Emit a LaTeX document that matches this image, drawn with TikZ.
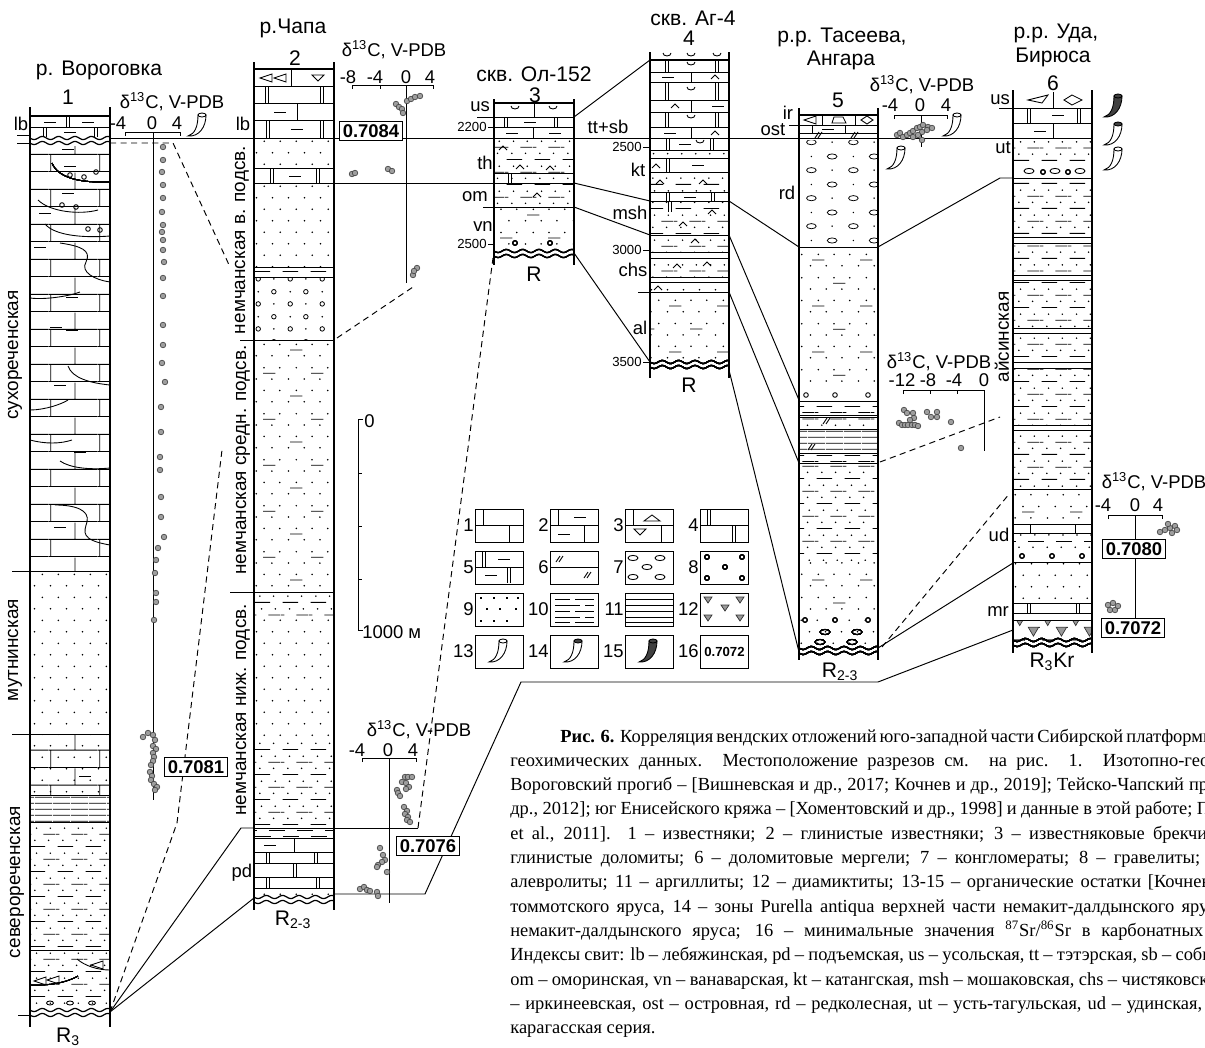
\documentclass[tikz,border=0pt]{standalone}
\usepackage{fontspec}
\setmainfont{Liberation Serif}
\newfontfamily\arialf{Liberation Sans}
\usetikzlibrary{patterns}

% lithology patterns
\pgfdeclarepatternformonly{sandp}{\pgfqpoint{0pt}{0pt}}{\pgfqpoint{9pt}{13pt}}{\pgfqpoint{9pt}{13pt}}{%
  \pgfpathcircle{\pgfqpoint{2pt}{3pt}}{0.5pt}%
  \pgfpathcircle{\pgfqpoint{6.5pt}{9.5pt}}{0.5pt}%
  \pgfusepath{fill}}
\pgfdeclarepatternformonly{siltp}{\pgfqpoint{0pt}{0pt}}{\pgfqpoint{16pt}{14pt}}{\pgfqpoint{16pt}{14pt}}{%
  \pgfsetlinewidth{0.45pt}%
  \pgfpathmoveto{\pgfqpoint{1pt}{1.5pt}}\pgfpathlineto{\pgfqpoint{10pt}{1.5pt}}%
  \pgfpathmoveto{\pgfqpoint{9pt}{8.5pt}}\pgfpathlineto{\pgfqpoint{16pt}{8.5pt}}%
  \pgfpathmoveto{\pgfqpoint{0pt}{8.5pt}}\pgfpathlineto{\pgfqpoint{2pt}{8.5pt}}%
  \pgfusepath{stroke}%
  \pgfpathcircle{\pgfqpoint{4pt}{5pt}}{0.5pt}%
  \pgfpathcircle{\pgfqpoint{12pt}{5pt}}{0.5pt}%
  \pgfpathcircle{\pgfqpoint{5pt}{12pt}}{0.5pt}%
  \pgfpathcircle{\pgfqpoint{13pt}{12pt}}{0.5pt}%
  \pgfusepath{fill}}
\pgfdeclarepatternformonly{sandsiltp}{\pgfqpoint{0pt}{0pt}}{\pgfqpoint{27pt}{26pt}}{\pgfqpoint{27pt}{26pt}}{%
  \pgfsetlinewidth{0.45pt}%
  \pgfpathmoveto{\pgfqpoint{3pt}{6.3pt}}\pgfpathlineto{\pgfqpoint{10pt}{6.3pt}}%
  \pgfpathmoveto{\pgfqpoint{15pt}{19.3pt}}\pgfpathlineto{\pgfqpoint{22pt}{19.3pt}}%
  \pgfusepath{stroke}%
  \foreach \u in {2,11,20}{\pgfpathcircle{\pgfqpoint{\u pt}{3pt}}{0.5pt}\pgfpathcircle{\pgfqpoint{\u pt}{16pt}}{0.5pt}}%
  \foreach \u in {6.5,15.5,24.5}{\pgfpathcircle{\pgfqpoint{\u pt}{9.5pt}}{0.5pt}\pgfpathcircle{\pgfqpoint{\u pt}{22.5pt}}{0.5pt}}%
  \pgfusepath{fill}}
\pgfdeclarepatternformonly{dashp}{\pgfqpoint{0pt}{0pt}}{\pgfqpoint{16pt}{7pt}}{\pgfqpoint{16pt}{7pt}}{%
  \pgfsetlinewidth{0.45pt}%
  \pgfpathmoveto{\pgfqpoint{1pt}{1.5pt}}\pgfpathlineto{\pgfqpoint{10pt}{1.5pt}}%
  \pgfpathmoveto{\pgfqpoint{9pt}{5pt}}\pgfpathlineto{\pgfqpoint{16pt}{5pt}}%
  \pgfpathmoveto{\pgfqpoint{0pt}{5pt}}\pgfpathlineto{\pgfqpoint{2pt}{5pt}}%
  \pgfusepath{stroke}}
\pgfdeclarepatternformonly{shalep}{\pgfqpoint{0pt}{0pt}}{\pgfqpoint{10pt}{3.2pt}}{\pgfqpoint{10pt}{3.2pt}}{%
  \pgfsetlinewidth{0.45pt}%
  \pgfpathmoveto{\pgfqpoint{0pt}{1.6pt}}\pgfpathlineto{\pgfqpoint{10pt}{1.6pt}}%
  \pgfusepath{stroke}}
\pgfdeclarepatternformonly{limep}{\pgfqpoint{0pt}{0pt}}{\pgfqpoint{28pt}{20pt}}{\pgfqpoint{28pt}{20pt}}{%
  \pgfsetlinewidth{0.5pt}%
  \pgfpathmoveto{\pgfqpoint{0pt}{0.3pt}}\pgfpathlineto{\pgfqpoint{28pt}{0.3pt}}%
  \pgfpathmoveto{\pgfqpoint{0pt}{10.3pt}}\pgfpathlineto{\pgfqpoint{28pt}{10.3pt}}%
  \pgfpathmoveto{\pgfqpoint{1pt}{0.3pt}}\pgfpathlineto{\pgfqpoint{1pt}{10.3pt}}%
  \pgfpathmoveto{\pgfqpoint{15pt}{10.3pt}}\pgfpathlineto{\pgfqpoint{15pt}{20pt}}%
  \pgfusepath{stroke}}
\pgfdeclarepatternformonly{gravelp}{\pgfqpoint{0pt}{0pt}}{\pgfqpoint{18pt}{14pt}}{\pgfqpoint{18pt}{14pt}}{%
  \pgfsetlinewidth{0.45pt}%
  \pgfpathcircle{\pgfqpoint{3pt}{3.5pt}}{1.3pt}%
  \pgfpathcircle{\pgfqpoint{12pt}{10.5pt}}{1.3pt}%
  \pgfusepath{stroke}%
  \pgfpathcircle{\pgfqpoint{12pt}{3.5pt}}{0.5pt}%
  \pgfpathcircle{\pgfqpoint{3pt}{10.5pt}}{0.5pt}%
  \pgfusepath{fill}}
\pgfdeclarepatternformonly{conglp}{\pgfqpoint{0pt}{0pt}}{\pgfqpoint{24pt}{16pt}}{\pgfqpoint{24pt}{16pt}}{%
  \pgfsetlinewidth{0.45pt}%
  \pgfpathellipse{\pgfqpoint{6pt}{4pt}}{\pgfqpoint{2.8pt}{0pt}}{\pgfqpoint{0pt}{1.5pt}}%
  \pgfpathellipse{\pgfqpoint{18pt}{12pt}}{\pgfqpoint{2.8pt}{0pt}}{\pgfqpoint{0pt}{1.5pt}}%
  \pgfusepath{stroke}%
  \pgfpathcircle{\pgfqpoint{18pt}{4pt}}{0.5pt}%
  \pgfpathcircle{\pgfqpoint{6pt}{12pt}}{0.5pt}%
  \pgfusepath{fill}}
\pgfdeclarepatterninherentlycolored{diamp}{\pgfqpoint{0pt}{0pt}}{\pgfqpoint{16pt}{13pt}}{\pgfqpoint{16pt}{13pt}}{%
  \pgfsetlinewidth{0.4pt}%
  \pgfsetfillcolor{black!40}\pgfsetstrokecolor{black!80}%
  \pgfpathmoveto{\pgfqpoint{1.5pt}{11.5pt}}\pgfpathlineto{\pgfqpoint{7.5pt}{11.5pt}}\pgfpathlineto{\pgfqpoint{4.5pt}{6.5pt}}\pgfpathclose
  \pgfpathmoveto{\pgfqpoint{9.5pt}{5.5pt}}\pgfpathlineto{\pgfqpoint{15.5pt}{5.5pt}}\pgfpathlineto{\pgfqpoint{12.5pt}{0.5pt}}\pgfpathclose
  \pgfusepath{fill,stroke}}

\tikzset{
  colline/.style={line width=0.8pt},
  bnd/.style={line width=0.5pt},
  corr/.style={line width=0.55pt},
  corrdash/.style={line width=0.55pt, dash pattern=on 3.5pt off 2.5pt},
  dpt/.style={draw=black!75, fill=black!38, line width=0.35pt},
  ttl/.style={font=\arialf\fontsize{12}{13}\selectfont, inner sep=0pt},
  lbl/.style={font=\arialf\fontsize{10.5}{12}\selectfont, inner sep=0pt},
  dep/.style={font=\arialf\fontsize{7.5}{8}\selectfont, inner sep=0pt},
  rot/.style={font=\arialf\fontsize{10.8}{12}\selectfont, rotate=90, inner sep=0pt},
  srbox/.style={draw, line width=0.6pt, fill=white, inner sep=1.8pt, font=\arialf\bfseries\fontsize{10.5}{12}\selectfont},
  captxt/.style={font=\fontsize{10.5}{12}\selectfont, anchor=base west, inner sep=0pt},
}

% symbols
\newcommand{\wavyline}[3]{%
  \draw[line width=0.7pt] plot[domain=#1:#2, samples=41, smooth] (\x,{#3+1.6*sin((\x-#1)*22)});
  \draw[line width=0.7pt] plot[domain=#1:#2, samples=41, smooth] (\x,{#3+5+1.6*sin((\x-#1)*22)});}
\newcommand{\joint}[3]{\draw[bnd] (#1,#2) -- (#1,#3);}
\newcommand{\djoint}[3]{\draw[bnd] (#1-1.5,#2) -- (#1-1.5,#3) (#1+1.5,#2) -- (#1+1.5,#3);}
\newcommand{\dashsym}[2]{\draw[bnd] (#1-6,#2) -- (#1+6,#2);}
\newcommand{\cupsym}[2]{\draw[bnd] (#1-4,#2-2) arc (180:0:4 and 3);}
\newcommand{\hatsym}[2]{\draw[bnd] (#1-4,#2+2) -- (#1,#2-2) -- (#1+4,#2+2);}
\newcommand{\marlsym}[2]{\draw[bnd] (#1-4,#2+3) -- (#1,#2-3) (#1-1,#2+3) -- (#1+3,#2-3);}
\newcommand{\pebble}[2]{\draw[bnd] (#1,#2) circle (2.3);}
\newcommand{\ovalsym}[2]{\draw[bnd] (#1,#2) ellipse (5 and 2.6);}
\newcommand{\trileft}[2]{\draw[bnd] (#1-6,#2) -- (#1+6,#2-4) -- (#1+6,#2+4) -- cycle;}
\newcommand{\tridown}[2]{\draw[bnd] (#1-6,#2-3) -- (#1+6,#2-3) -- (#1,#2+3) -- cycle;}
\newcommand{\triup}[2]{\draw[bnd] (#1-8,#2+3) -- (#1+8,#2+3) -- (#1,#2-3) -- cycle;}
\newcommand{\horn}[4]{%
  \begin{scope}[shift={(#1,#2)}]
    \filldraw[fill=#3, line width=0.5pt] (0,0) .. controls (7,-2) and (10,-10) .. (10,-21) -- (18,-21) .. controls (18,-9) and (11,1) .. (0,0) -- cycle;
    \filldraw[fill=#4, line width=0.5pt] (14,-21) ellipse (4 and 2);
  \end{scope}}

\begin{document}
\begin{tikzpicture}[x=0.02cm, y=-0.02cm]
\useasboundingbox (0,0) rectangle (1205,1048);
\clip (0,0) rectangle (1205,1048);

% Drawing column 1 (r. Vorogovka)
\fill[pattern=limep] (30,146) rectangle (110,571);
\fill[pattern=sandp] (30,571) rectangle (110,734);
\fill[pattern=limep] (30,734) rectangle (110,795);
\fill[pattern=sandp] (30,734) rectangle (110,795);
\fill[pattern=shalep] (30,795) rectangle (110,822);
\fill[pattern=siltp] (30,822) rectangle (110,1006);
\foreach \yy in {571,734,795,822,950} \draw[bnd] (30,\yy) -- (110,\yy);
\draw[bnd] (30,127) -- (110,127);
\djoint{68}{116}{127} \dashsym{50}{122} \dashsym{88}{122}
\djoint{45}{127}{137} \djoint{96}{127}{137} \dashsym{70}{132}
\foreach \u/\v in {68/149,70/166,68/193,45/213,40/247,72/297,72/330,56/327,60/385,80/452,60/527,85/776} \dashsym{\u}{\v}
\draw[bnd] (52,163) .. controls (58,178) and (80,183) .. (110,182);
\draw[bnd] (38,200) .. controls (50,212) and (80,215) .. (98,210);
\draw[bnd] (45,224) .. controls (55,236) and (85,238) .. (110,236);
\draw[bnd] (60,243) .. controls (80,246) and (92,250) .. (86,262) .. controls (80,272) and (95,280) .. (110,282);
\draw[bnd] (30,298) .. controls (45,300) and (70,296) .. (80,292);
\draw[bnd] (68,366) .. controls (72,378) and (90,383) .. (110,385);
\draw[bnd] (30,410) .. controls (45,410) and (62,404) .. (68,400);
\draw[bnd] (30,440) .. controls (45,444) and (60,444) .. (72,440);
\draw[bnd] (60,461) .. controls (70,468) and (90,470) .. (110,468);
\draw[bnd] (55,505) .. controls (75,505) and (90,510) .. (87,522) .. controls (84,532) and (80,540) .. (110,545);
\foreach \u/\v in {70/175,84/177,96/172,62/205,76/207,88/229,100/230} \pebble{\u}{\v}
\draw[bnd] (30,985) .. controls (50,986) and (68,982) .. (78,976);
\draw[bnd] (77,959) .. controls (85,966) and (98,970) .. (110,970);
\trileft{40}{981} \trileft{53}{980} \trileft{97}{965}
\foreach \u in {50,70,92} \draw[bnd] (\u,1003) ellipse (3.5 and 2);
\wavyline{30}{110}{138}
\wavyline{30}{110}{1010}
\draw[colline] (30,107) -- (30,1027) (110,107) -- (110,1027) (30,116) -- (110,116);
\draw[bnd] (17,135) -- (30,135) (17,143) -- (30,143) (12,571) -- (30,571) (12,734) -- (30,734) (18,1015) -- (30,1015);

% Drawing column 2 (r. Chapa)
\fill[pattern=sandp] (254,138) rectangle (334,168);
\fill[pattern=sandp] (254,183) rectangle (334,267);
\fill[pattern=dashp] (254,267) rectangle (334,277);
\fill[pattern=gravelp] (254,277) rectangle (334,340);
\fill[pattern=sandsiltp] (254,340) rectangle (334,592);
\fill[pattern=siltp] (254,592) rectangle (334,618);
\fill[pattern=sandp] (254,618) rectangle (334,740);
\fill[pattern=siltp] (254,740) rectangle (334,828);
\fill[pattern=dashp] (254,828) rectangle (334,838);
\fill[pattern=sandp] (254,888) rectangle (334,896);
\foreach \yy in {86,103,120,138,168,183,267,277,340,592,828,838,852,863,877,888} \draw[bnd] (254,\yy) -- (334,\yy);
\trileft{266}{78} \trileft{280}{78} \tridown{318}{78} \joint{291}{69}{86}
\djoint{267}{86}{103} \djoint{322}{86}{103}
\joint{297}{103}{120} \dashsym{280}{112}
\djoint{268}{120}{138} \djoint{322}{120}{138} \dashsym{297}{129}
\djoint{272}{168}{183} \djoint{318}{168}{183} \dashsym{295}{176}
\joint{294}{838}{852} \dashsym{270}{845}
\djoint{268}{852}{863} \djoint{316}{852}{863}
\djoint{295}{863}{877}
\djoint{268}{877}{888} \djoint{318}{877}{888}
\wavyline{254}{334}{897}
\draw[colline] (254,62) -- (254,910) (334,62) -- (334,910) (254,69) -- (334,69);
\draw[bnd] (240,340) -- (254,340) (230,592) -- (254,592);

% Drawing column 3 (Ol-152)
\fill[pattern=siltp] (494,138) rectangle (574,207);
\fill[pattern=sandsiltp] (494,207) rectangle (574,248);
\foreach \yy in {117,127,138,173,183,207} \draw[bnd] (494,\yy) -- (574,\yy);
\joint{534}{103}{117} \cupsym{515}{108} \cupsym{553}{108}
\djoint{506}{117}{127} \djoint{556}{117}{127} \dashsym{530}{122}
\joint{533}{127}{138} \dashsym{512}{133} \dashsym{555}{133}
\djoint{510}{173}{183}
\foreach \u/\v in {503/148,520/167,550/168,537/195} \hatsym{\u}{\v}
\pebble{515}{243} \pebble{550}{243}
\wavyline{494}{574}{251}
\draw[colline] (494,99) -- (494,265) (574,99) -- (574,265) (494,103) -- (574,103);
\draw[bnd] (477,117) -- (494,117) (488,127) -- (494,127) (483,207) -- (494,207) (488,244) -- (494,244);

% Drawing column 4 (Ag-4)
\fill[pattern=siltp] (650,150) rectangle (729,158);
\fill[pattern=siltp] (650,172) rectangle (729,192);
\fill[pattern=siltp] (650,201) rectangle (729,252);
\fill[pattern=siltp] (650,258) rectangle (729,277);
\fill[pattern=sandp] (650,282) rectangle (729,292);
\fill[pattern=sandsiltp] (650,292) rectangle (729,360);
\foreach \yy in {72,82,100,112,127,138,150,158,172,192,201,235,252,258,277,282,292} \draw[bnd] (650,\yy) -- (729,\yy);
\cupsym{667}{55} \cupsym{691}{55} \cupsym{717}{55}
\djoint{667}{60}{72} \djoint{717}{60}{72} \cupsym{691}{64}
\joint{691}{72}{82} \dashsym{668}{77} \hatsym{715}{77}
\djoint{667}{82}{100} \djoint{717}{82}{100} \cupsym{691}{89}
\joint{691}{100}{112} \hatsym{675}{106} \dashsym{718}{106}
\djoint{667}{112}{127} \djoint{717}{112}{127} \cupsym{691}{117}
\joint{691}{127}{138} \dashsym{670}{133} \hatsym{715}{133}
\djoint{668}{138}{150} \djoint{712}{138}{150} \dashsym{685}{144} \cupsym{700}{142}
\djoint{668}{158}{172} \hatsym{656}{166} \dashsym{698}{165}
\djoint{668}{192}{201} \djoint{713}{192}{201} \dashsym{690}{197}
\djoint{670}{201}{212}
\foreach \u/\v in {660/182,703/182,712/212,683/224,695/241,677/266,707/264,658/288} \hatsym{\u}{\v}
\wavyline{650}{729}{362}
\draw[colline] (650,52) -- (650,378) (729,52) -- (729,378) (650,60) -- (729,60);
\draw[bnd] (643,147) -- (650,147) (643,250) -- (650,250) (643,362) -- (650,362) (638,292) -- (650,292);

% Drawing column 5 (Taseeva, Angara)
\fill[pattern=conglp] (799,140) rectangle (878,247);
\fill[pattern=sandsiltp] (799,247) rectangle (878,390);
\fill[pattern=dashp] (799,401) rectangle (878,415);
\fill[pattern=siltp] (799,417) rectangle (878,429);
\fill[pattern=shalep] (799,429) rectangle (878,453);
\fill[pattern=dashp] (799,453) rectangle (878,463);
\fill[pattern=siltp] (799,463) rectangle (878,560);
\fill[pattern=sandsiltp] (799,560) rectangle (878,616);
\fill[pattern=sandp] (799,616) rectangle (878,646);
\foreach \yy in {125,133,138,247,401,415,417,429,453,463} \draw[bnd] (799,\yy) -- (878,\yy);
\trileft{810}{120} \draw[bnd] (832,123) -- (846,123) -- (843,117) -- (834,117) -- cycle; \draw[bnd] (861,120) -- (867,116) -- (873,120) -- (867,124) -- cycle;
\joint{822}{115}{125} \joint{855}{115}{125}
\joint{812}{125}{133} \joint{845}{125}{133} \dashsym{828}{129}
\marlsym{819}{135} \marlsym{855}{135}
\marlsym{827}{421} \marlsym{812}{447}
\foreach \u in {806,835,868} \pebble{\u}{395}
\foreach \u in {805,835,868} \pebble{\u}{620}
\ovalsym{825}{632} \ovalsym{857}{632} \ovalsym{820}{642} \ovalsym{852}{642}
\wavyline{799}{878}{648}
\draw[colline] (799,108) -- (799,660) (878,108) -- (878,660) (799,115) -- (878,115);
\draw[bnd] (789,125) -- (799,125);

% Drawing column 6 (Uda, Biryusa)
\fill[pattern=siltp] (1013,138) rectangle (1092,165);
\fill[pattern=siltp] (1013,178) rectangle (1092,237);
\fill[pattern=siltp] (1013,243) rectangle (1092,275);
\fill[pattern=siltp] (1013,280) rectangle (1092,328);
\fill[pattern=siltp] (1013,333) rectangle (1092,362);
\fill[pattern=siltp] (1013,368) rectangle (1092,425);
\fill[pattern=siltp] (1013,430) rectangle (1092,489);
\fill[pattern=sandsiltp] (1013,489) rectangle (1092,524);
\fill[pattern=siltp] (1013,533) rectangle (1092,550);
\fill[pattern=sandp] (1013,562) rectangle (1092,603);
\fill[pattern=diamp] (1013,620) rectangle (1092,640);
\foreach \yy in {108,123,138,178,237,243,275,280,328,333,362,368,425,430,489,524,533,562,603,613,620} \draw[bnd] (1013,\yy) -- (1092,\yy);
\draw[bnd] (1028,100) -- (1048,95) -- (1042,103) -- cycle; \draw[bnd] (1064,100) -- (1072,95) -- (1082,100) -- (1072,105) -- cycle; \joint{1053}{92}{108}
\djoint{1029}{108}{123} \djoint{1079}{108}{123} \dashsym{1058}{115}
\joint{1053}{123}{138} \dashsym{1040}{131}
\foreach \u in {1029,1055,1080} \ovalsym{\u}{171}
\pebble{1043}{172} \pebble{1068}{172}
\joint{1030}{524}{533} \joint{1075}{524}{533}
\foreach \u in {1022,1052,1082} \pebble{\u}{556}
\djoint{1029}{603}{613} \djoint{1078}{603}{613}
\wavyline{1013}{1092}{640}
\draw[colline] (1013,90) -- (1013,653) (1092,90) -- (1092,653);
\draw[bnd] (999,108) -- (1013,108);

% Drawing correlation lines
\coordinate (c1bot) at (110,1012);
\coordinate (c2top) at (254,828);
\coordinate (c2bot) at (254,898);
\draw[corr] (110,138) -- (1013,138);
\draw[corr] (334,183) -- (494,183);
\draw[corr] (574,117) -- (650,60);
\draw[corr] (574,183) -- (650,201);
\draw[corr] (574,207) -- (650,235);
\draw[corr] (574,253) -- (650,362);
\draw[corr] (729,201) -- (799,247);
\draw[corr] (729,235) -- (799,400);
\draw[corr] (729,292) -- (799,463);
\draw[corr] (729,370) -- (799,652);
\draw[corr] (878,247) -- (1000,178) -- (1013,178);
\draw[corr] (878,648) -- (1013,563);
\draw[corr] (334,894) -- (425,894) -- (521,682) -- (878,682) -- (1013,630);
\draw[corr] (c1bot) -- (241,828) -- (c2top);
\draw[corr] (c1bot) -- (c2bot);
\draw[corr] (334,828) -- (418,828);
\draw[corrdash] (110,143) -- (173,143) -- (230,267);
\draw[corrdash] (337,338) -- (413,287);
\draw[corrdash] (c1bot) -- (177,823) -- (222,450);
\draw[corrdash] (418,828) -- (493,258);
\draw[corrdash] (880,462) -- (1000,417);
\draw[corrdash] (882,647) -- (1010,493);

% Drawing d13C plots
\node[lbl] (hd1) at (172,102) {δ\textsuperscript{13}C, V-PDB};
\node[lbl] at (118,123) {-4}; \node[lbl] at (152,123) {0}; \node[lbl] at (177,123) {4};
\draw[bnd] (125,136) -- (125,132) -- (180,132) -- (180,136) (153,132) -- (153,800);
\foreach \u/\v in {163/147,163/160,162/172,163/185,163/198,162/212,163/225,162/232,163/240,163/250,164/262,163/278,163/296,163/325,163/345,162/363,165/382,161/407,161/432,160/457,160/470,161/497,161/517,164/537,158/548,156/560,155/573,156/593,156/602,154/620,143/737,148/733,153/735,155/740,153/746,156/749,153/753,154/757,153/761,151/765,150/772,152/776,151/780,154/784,157/787,155/790} \draw[dpt] (\u,\v) circle (2.8);
\horn{188}{136}{white}{white}

\node[lbl] (hd2) at (394,50) {δ\textsuperscript{13}C, V-PDB};
\node[lbl] at (348,77) {-8}; \node[lbl] at (375,77) {-4}; \node[lbl] at (406,77) {0}; \node[lbl] at (430,77) {4};
\draw[bnd] (352,89) -- (352,85) -- (433,85) -- (433,89) (380,85) -- (380,89) (406,85) -- (406,283);
\foreach \u/\v in {396/104,399/107,402/109,403/113,407/101,411/99,415/97,420/96,352/174,355/173,388/169,392/171,413/275,417/268,414/271} \draw[dpt] (\u,\v) circle (2.8);

\node[lbl] (hd3) at (419,730) {δ\textsuperscript{13}C, V-PDB};
\node[lbl] at (357,750) {-4}; \node[lbl] at (388,750) {0}; \node[lbl] at (413,750) {4};
\draw[bnd] (362,762) -- (362,758) -- (416,758) -- (416,762) (389,758) -- (389,903);
\foreach \u/\v in {405/777,408/777,412/777,402/782,406/783,409/787,406/789,397/790,398/793,400/796,404/807,407/811,405/814,408/817,407/820,410/822,380/848,383/855,385/860,382/862,378/865,377/867,387/872,360/889,364/887,367/890,370/891,377/892,378/896} \draw[dpt] (\u,\v) circle (2.8);

\node[lbl] (hd4) at (922,85) {δ\textsuperscript{13}C, V-PDB};
\node[lbl] at (890,105) {-4}; \node[lbl] at (920,105) {0}; \node[lbl] at (946,105) {4};
\draw[bnd] (894,119) -- (894,115) -- (947,115) -- (947,119) (921,115) -- (921,147);
\foreach \u/\v in {897/135,900/133,903/137,907/135,910/133,913/131,917/128,920/127,923/125,928/127,932/128,922/132,918/135,913/137,922/140,927/130} \draw[dpt] (\u,\v) circle (2.8);
\horn{943}{136}{white}{white}
\horn{887}{169}{white}{white}

\node[lbl] (hd5) at (939,362) {δ\textsuperscript{13}C, V-PDB};
\node[lbl] at (902,380) {-12}; \node[lbl] at (928,380) {-8}; \node[lbl] at (954,380) {-4}; \node[lbl] at (984,380) {0};
\draw[bnd] (903,394) -- (903,390) -- (984,390) -- (984,451) (930,390) -- (930,394) (957,390) -- (957,394);
\foreach \u/\v in {899/423,902/425,905/425,908/425,912/425,915/425,918/426,904/410,907/413,913/413,914/418,910/420,927/412,931/417,937/412,937/417,951/422,961/448} \draw[dpt] (\u,\v) circle (2.8);

\node[lbl] (hd6) at (1154,482) {δ\textsuperscript{13}C, V-PDB};
\node[lbl] at (1103,505) {-4}; \node[lbl] at (1135,505) {0}; \node[lbl] at (1158,505) {4};
\draw[bnd] (1108,519) -- (1108,515) -- (1162,515) -- (1162,519) (1135,515) -- (1135,618);
\foreach \u/\v in {1160/532,1165/530,1170/528,1175/526,1168/524,1172/533,1177/530,1108/605,1113/603,1110/610,1115/610,1118/606} \draw[dpt] (\u,\v) circle (2.8);
\horn{1104}{117}{black!75}{black!75}
\horn{1104}{145}{white}{black!75}
\horn{1104}{170}{white}{white}

% Drawing Sr boxes
\node[srbox] (sr84) at (371,131) {0.7084};
\node[srbox] (sr81) at (196,767) {0.7081};
\node[srbox] (sr76) at (428,846) {0.7076};
\node[srbox] (sr80) at (1134,549) {0.7080};
\node[srbox] (sr72) at (1133,628) {0.7072};

% Drawing titles and labels
\node[ttl] (t1) at (99,70) {р. Вороговка};
\node[ttl] (t2) at (293,28) {р.Чапа};
\node[ttl] (t3) at (534,74) {скв. Ол-152};
\node[ttl] (t4) at (693,18) {скв. Аг-4};
\node[ttl] (t5a) at (842,37) {р.р. Тасеева,};
\node[ttl] (t5b) at (841,60) {Ангара};
\node[ttl] (t6a) at (1056,33) {р.р. Уда,};
\node[ttl] (t6b) at (1053,57) {Бирюса};
\node[ttl] (n1) at (68,97) {1};
\node[ttl] (n2) at (295,58) {2};
\node[ttl] (n3) at (535,95) {3};
\node[ttl] (n4) at (689,38) {4};
\node[ttl] (n5) at (838,100) {5};
\node[ttl] (n6) at (1053,83) {6};
\node[lbl] (lb1) at (21,124) {lb};
\node[lbl] (lb2) at (243,124) {lb};
\node[lbl] (pd2) at (242,873) {pd};
\node[lbl] (us3) at (480,107) {us};
\node[lbl] (th3) at (485,163) {th};
\node[lbl] (om3) at (475,197) {om};
\node[lbl] (vn3) at (483,227) {vn};
\node[lbl] (tt4) at (608,127) {tt+sb};
\node[lbl] (kt4) at (638,170) {kt};
\node[lbl] (msh4) at (630,213) {msh};
\node[lbl] (chs4) at (633,270) {chs};
\node[lbl] (al4) at (640,328) {al};
\node[lbl] (ir5) at (788,113) {ir};
\node[lbl] (ost5) at (773,130) {ost};
\node[lbl] (rd5) at (787,193) {rd};
\node[lbl] (us6) at (1000,100) {us};
\node[lbl] (ut6) at (1003,148) {ut};
\node[lbl] (ud6) at (999,535) {ud};
\node[lbl] (mr6) at (998,612) {mr};
\node[dep, anchor=east] (d2200) at (487,127) {2200};
\node[dep, anchor=east] (d2500a) at (487,244) {2500};
\node[dep, anchor=east] (d2500b) at (642,147) {2500};
\node[dep, anchor=east] (d3000) at (642,250) {3000};
\node[dep, anchor=east] (d3500) at (642,362) {3500};
\node[ttl] (r1) at (68,1037) {R\textsubscript{3}};
\node[ttl] (r2) at (293,920) {R\textsubscript{2-3}};
\node[ttl] (r3) at (534,274) {R};
\node[ttl] (r4) at (689,385) {R};
\node[ttl] (r5) at (840,672) {R\textsubscript{2-3}};
\node[ttl] (r6) at (1052,662) {R\textsubscript{3}Kr};
\node[rot] (f1) at (15,355) {сухореченская};
\node[rot] (f2) at (15,650) {мутнинская};
\node[rot] (f3) at (17,882) {северореченская};
\node[rot] (f4) at (242,240) {немчанская в. подсв.};
\node[rot] (f5) at (243,460) {немчанская средн. подсв.};
\node[rot] (f6) at (243,710) {немчанская ниж. подсв.};
\node[rot] (f7) at (1002,337) {айсинская};

% Drawing scale bar
\draw[bnd] (363,419) -- (358,419) -- (358,630) -- (363,630);
\foreach \yy in {473,526,579} \draw[bnd] (358,\yy) -- (362,\yy);
\node[lbl, anchor=west] (s0) at (364,421) {0};
\node[lbl, anchor=west] (s1) at (362,632) {1000 м};

% Drawing legend
\foreach \u in {475,550,625,700} \foreach \v in {509,551,593,635} \draw[bnd] (\u,\v) rectangle (\u+48,\v+33);
\foreach \k/\u/\v in {1/475/525,2/550/525,3/625/525,4/700/525,5/475/567,6/550/567,7/625/567,8/700/567,9/475/609,10/550/609,11/625/609,12/700/609,13/475/651,14/550/651,15/625/651,16/700/651} \node[lbl, anchor=east] at (\u-1,\v) {\k};
\draw[bnd] (475,525.5) -- (523,525.5) (483,509) -- (483,525.5) (509,525.5) -- (509,542);
\draw[bnd] (550,525.5) -- (598,525.5) (558,509) -- (558,525.5) (584,525.5) -- (584,542);
\dashsym{580}{517} \dashsym{564}{534}
\draw[bnd] (625,525.5) -- (673,525.5) (633,509) -- (633,525.5) (661,525.5) -- (661,542);
\triup{652}{518} \tridown{640}{532}
\draw[bnd] (700,525.5) -- (749,525.5);
\djoint{709}{509}{525.5} \djoint{734}{525.5}{542}
\draw[bnd] (475,567) -- (523,567);
\djoint{484}{551}{567} \djoint{509}{567}{583} \dashsym{504}{559} \dashsym{491}{575}
\draw[bnd] (550,567) -- (598,567);
\marlsym{560}{559} \marlsym{588}{575}
\foreach \u/\v in {633/558,660/558,647/567,633/577,660/577} \ovalsym{\u}{\v}
\foreach \u/\v in {707/557,742/557,725/567,707/578,742/578} \pebble{\u}{\v}
\foreach \u/\v in {481/598,494/598,507/598,518/598,487/609,500/609,516/609,481/621,494/621,507/621} \fill (\u,\v) circle (0.9);
\foreach \v in {599,611,622} \draw[bnd] (555,\v) -- (570,\v) (575,\v) -- (594,\v);
\foreach \v in {605,617} \draw[bnd] (555,\v) -- (580,\v) (585,\v) -- (594,\v);
\foreach \v in {599,605,611,617,622} \draw[bnd] (625,\v) -- (673,\v);
\foreach \u/\v in {708/600,740/600,725/608,708/618,740/618} \filldraw[fill=black!40, draw=black!80, line width=0.4pt] (\u-4,\v-3) -- (\u+4,\v-3) -- (\u,\v+3) -- cycle;
\horn{489}{662}{white}{white}
\horn{564}{662}{white}{black!75}
\horn{639}{662}{black!75}{black!75}
\node[font=\arialf\bfseries\fontsize{7.5}{8}\selectfont, inner sep=0pt] (lg16) at (724.5,651.5) {0.7072};

% Drawing caption
\node[captxt] (cap1) at (560,742) {\makebox[13.08cm][s]{\textbf{Рис. 6.} Корреляция вендских отложений юго-западной части Сибирской платформы}};
\node[captxt] (cap2) at (510,766.3) {\makebox[13.98cm][s]{геохимических данных. Местоположение разрезов см. на рис. 1. Изотопно-гео}};
\node[captxt] (cap3) at (510,790.6) {\makebox[13.96cm][s]{Вороговский прогиб – [Вишневская и др., 2017; Кочнев и др., 2019]; Тейско-Чапский пр}};
\node[captxt] (cap4) at (510,814.9) {\makebox[14.0cm][s]{др., 2012]; юг Енисейского кряжа – [Хоментовский и др., 1998] и данные в этой работе; П}};
\node[captxt] (cap5) at (510,839.2) {\makebox[13.94cm][s]{et al., 2011]. 1 – известняки; 2 – глинистые известняки; 3 – известняковые брекчи}};
\node[captxt] (cap6) at (510,863.5) {\makebox[13.8cm][s]{глинистые доломиты; 6 – доломитовые мергели; 7 – конгломераты; 8 – гравелиты;}};
\node[captxt] (cap7) at (510,887.8) {\makebox[14.0cm][s]{алевролиты; 11 – аргиллиты; 12 – диамиктиты; 13-15 – органические остатки [Кочнев}};
\node[captxt] (cap8) at (510,912.1) {\makebox[13.96cm][s]{томмотского яруса, 14 – зоны Purella antiqua верхней части немакит-далдынского яру}};
\node[captxt] (cap9) at (510,936.4) {\makebox[13.86cm][s]{немакит-далдынского яруса; 16 – минимальные значения \textsuperscript{87}Sr/\textsuperscript{86}Sr в карбонатных}};
\node[captxt] (cap10) at (510,960.7) {\makebox[14.04cm][s]{Индексы свит: lb – лебяжинская, pd – подъемская, us – усольская, tt – тэтэрская, sb – соби}};
\node[captxt] (cap11) at (510,985) {\makebox[13.96cm][s]{om – оморинская, vn – ванаварская, kt – катангская, msh – мошаковская, chs – чистяковск}};
\node[captxt] (cap12) at (510,1009.3) {\makebox[13.84cm][s]{– иркинеевская, ost – островная, rd – редколесная, ut – усть-тагульская, ud – удинская,}};
\node[captxt] (cap13) at (510,1033.6) {карагасская серия.};
\end{tikzpicture}
\end{document}
